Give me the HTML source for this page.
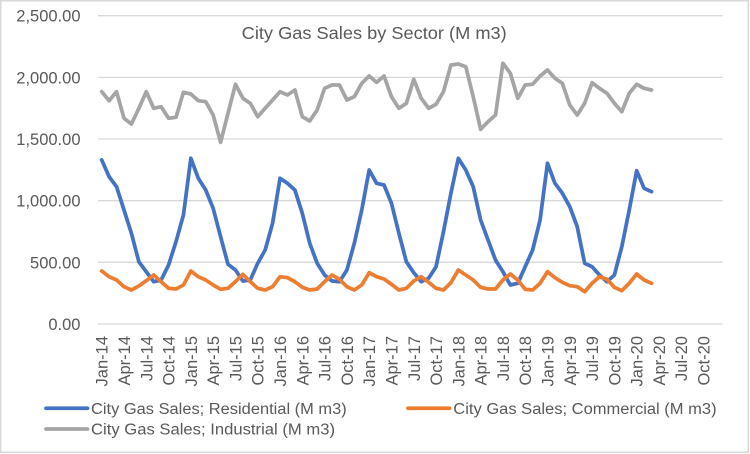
<!DOCTYPE html>
<html>
<head>
<meta charset="utf-8">
<style>
html,body{margin:0;padding:0;background:#fff;}
svg{display:block;}
text{font-family:"Liberation Sans",Arial,sans-serif;fill:#595959;}
</style>
</head>
<body>
<svg width="750" height="454" viewBox="0 0 750 454" xmlns="http://www.w3.org/2000/svg">
<rect x="0" y="0" width="750" height="454" fill="#fff"/>
<rect x="0.75" y="0.75" width="747.5" height="451.5" fill="none" stroke="#D9D9D9" stroke-width="1.5"/>

<!-- gridlines -->
<g stroke="#D9D9D9" stroke-width="1.3">
<line x1="98" y1="15.7" x2="722.7" y2="15.7"/>
<line x1="98" y1="77.4" x2="722.7" y2="77.4"/>
<line x1="98" y1="139.0" x2="722.7" y2="139.0"/>
<line x1="98" y1="200.7" x2="722.7" y2="200.7"/>
<line x1="98" y1="262.3" x2="722.7" y2="262.3"/>
<line x1="98" y1="324.0" x2="722.7" y2="324.0"/>
</g>

<!-- y labels -->
<g font-size="16.5" text-anchor="end">
<text x="80.5" y="21.7">2,500.00</text>
<text x="80.5" y="83.4">2,000.00</text>
<text x="80.5" y="145.0">1,500.00</text>
<text x="80.5" y="206.7">1,000.00</text>
<text x="80.5" y="268.3">500.00</text>
<text x="80.5" y="330.0">0.00</text>
</g>

<!-- title -->
<text x="241.7" y="39" font-size="17.5" textLength="265" lengthAdjust="spacingAndGlyphs">City Gas Sales by Sector (M m3)</text>

<!-- x labels -->
<g font-size="16.5" text-anchor="end">
<text transform="translate(107.7,336) rotate(-90)">Jan-14</text>
<text transform="translate(129.99,336) rotate(-90)">Apr-14</text>
<text transform="translate(152.28,336) rotate(-90)">Jul-14</text>
<text transform="translate(174.57,336) rotate(-90)">Oct-14</text>
<text transform="translate(196.86,336) rotate(-90)">Jan-15</text>
<text transform="translate(219.15,336) rotate(-90)">Apr-15</text>
<text transform="translate(241.44,336) rotate(-90)">Jul-15</text>
<text transform="translate(263.73,336) rotate(-90)">Oct-15</text>
<text transform="translate(286.02,336) rotate(-90)">Jan-16</text>
<text transform="translate(308.31,336) rotate(-90)">Apr-16</text>
<text transform="translate(330.6,336) rotate(-90)">Jul-16</text>
<text transform="translate(352.89,336) rotate(-90)">Oct-16</text>
<text transform="translate(375.18,336) rotate(-90)">Jan-17</text>
<text transform="translate(397.47,336) rotate(-90)">Apr-17</text>
<text transform="translate(419.76,336) rotate(-90)">Jul-17</text>
<text transform="translate(442.05,336) rotate(-90)">Oct-17</text>
<text transform="translate(464.34,336) rotate(-90)">Jan-18</text>
<text transform="translate(486.63,336) rotate(-90)">Apr-18</text>
<text transform="translate(508.92,336) rotate(-90)">Jul-18</text>
<text transform="translate(531.21,336) rotate(-90)">Oct-18</text>
<text transform="translate(553.5,336) rotate(-90)">Jan-19</text>
<text transform="translate(575.79,336) rotate(-90)">Apr-19</text>
<text transform="translate(598.08,336) rotate(-90)">Jul-19</text>
<text transform="translate(620.37,336) rotate(-90)">Oct-19</text>
<text transform="translate(642.66,336) rotate(-90)">Jan-20</text>
<text transform="translate(664.95,336) rotate(-90)">Apr-20</text>
<text transform="translate(687.24,336) rotate(-90)">Jul-20</text>
<text transform="translate(709.53,336) rotate(-90)">Oct-20</text>
</g>

<!-- series -->
<g fill="none" stroke-width="3.75" stroke-linejoin="round" stroke-linecap="round">
<polyline stroke="#4472C4" points="101.7,160 109.13,176.7 116.56,186.7 123.99,210 131.42,233.3 138.85,261.7 146.28,271.7 153.71,281.7 161.14,280 168.57,265 176,241.7 183.43,215 190.86,158.3 198.29,178.3 205.72,190 213.15,208.3 220.58,236.7 228.01,264.3 235.44,270 242.87,281 250.3,280 257.73,263.3 265.16,250 272.59,223.3 280.02,178.3 287.45,183.3 294.88,190 302.31,213.3 309.74,243.3 317.17,263.3 324.6,275 332.03,281 339.46,281.7 346.89,270 354.32,243.3 361.75,210 369.18,170 376.61,183.3 384.04,185 391.47,203.3 398.9,233.3 406.33,261.7 413.76,272.7 421.19,281.7 428.62,278.3 436.05,266.7 443.48,231.7 450.91,193.3 458.34,158.3 465.77,170 473.2,186.7 480.63,220 488.06,240 495.49,260 502.92,271.7 510.35,285 517.78,283.3 525.21,266.7 532.64,250 540.07,220 547.5,163.3 554.93,183.3 562.36,193.3 569.79,206.7 577.22,226.7 584.65,263.3 592.08,266.7 599.51,275 606.94,281.7 614.37,275 621.8,246.7 629.23,210 636.66,170.7 644.09,188.3 651.52,191.7"/>
<polyline stroke="#ED7D31" points="101.7,271 109.13,276.7 116.56,280 123.99,286.7 131.42,290 138.85,286 146.28,280.7 153.71,275 161.14,281.7 168.57,288.3 176,289 183.43,285 190.86,271 198.29,276.7 205.72,280 213.15,285 220.58,289.3 228.01,288.3 235.44,281.7 242.87,274.3 250.3,281.7 257.73,288.3 265.16,290 272.59,286.7 280.02,276.7 287.45,277.7 294.88,281.7 302.31,287.3 309.74,290 317.17,289 324.6,281.7 332.03,275 339.46,279.3 346.89,286.7 354.32,290 361.75,285 369.18,272.7 376.61,276.7 384.04,279 391.47,284.3 398.9,290 406.33,288.3 413.76,281 421.19,276.7 428.62,282.3 436.05,288.3 443.48,290 450.91,282.7 458.34,270 465.77,275 473.2,280 480.63,287.3 488.06,289 495.49,289 502.92,280 510.35,274 517.78,280 525.21,289.3 532.64,290 540.07,283.3 547.5,271.7 554.93,277.7 562.36,282.3 569.79,285.7 577.22,286.7 584.65,291.7 592.08,283.3 599.51,276.7 606.94,279.3 614.37,287.3 621.8,290.7 629.23,283.3 636.66,274 644.09,280 651.52,283.3"/>
<polyline stroke="#A5A5A5" points="101.7,91.7 109.13,100.7 116.56,91.7 123.99,118.3 131.42,124 138.85,108.3 146.28,91.7 153.71,108.3 161.14,106.7 168.57,118.3 176,117.3 183.43,92.3 190.86,94 198.29,100.7 205.72,101.7 213.15,115 220.58,142.3 228.01,113.3 235.44,84.3 242.87,98.3 250.3,103.3 257.73,116.7 265.16,108.3 272.59,100 280.02,91.7 287.45,95 294.88,90 302.31,116.7 309.74,121 317.17,110 324.6,88.3 332.03,85 339.46,85 346.89,100 354.32,96.7 361.75,83.3 369.18,76 376.61,82.3 384.04,76 391.47,96.7 398.9,108.3 406.33,103.3 413.76,79.3 421.19,98.3 428.62,108.3 436.05,104.3 443.48,91.7 450.91,65 458.34,64 465.77,66.7 473.2,96.7 480.63,129.3 488.06,121.7 495.49,115 502.92,63.3 510.35,73.3 517.78,98.3 525.21,85 532.64,84.3 540.07,76 547.5,70 554.93,78.3 562.36,83.3 569.79,105 577.22,115 584.65,103.3 592.08,82.7 599.51,88.3 606.94,93.3 614.37,103.3 621.8,111.7 629.23,93.3 636.66,84.3 644.09,88.3 651.52,90"/>
</g>

<!-- legend -->
<g stroke-width="3.75" stroke-linecap="round">
<line x1="46" y1="408.3" x2="87.5" y2="408.3" stroke="#4472C4"/>
<line x1="408" y1="408.3" x2="449.5" y2="408.3" stroke="#ED7D31"/>
<line x1="46" y1="429" x2="87.5" y2="429" stroke="#A5A5A5"/>
</g>
<g font-size="15.5">
<text x="91" y="413.8" textLength="255.7" lengthAdjust="spacingAndGlyphs">City Gas Sales; Residential (M m3)</text>
<text x="453.3" y="413.8" textLength="263.3" lengthAdjust="spacingAndGlyphs">City Gas Sales; Commercial (M m3)</text>
<text x="91" y="434.5" textLength="244" lengthAdjust="spacingAndGlyphs">City Gas Sales; Industrial (M m3)</text>
</g>
</svg>
</body>
</html>
